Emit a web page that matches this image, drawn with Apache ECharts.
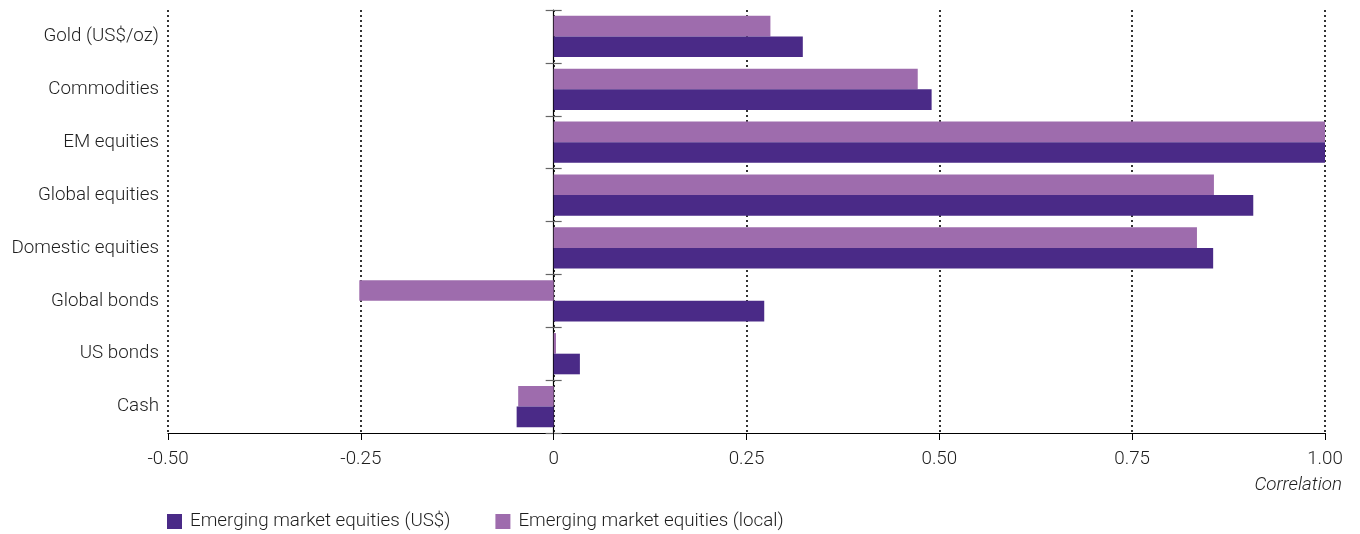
<!DOCTYPE html>
<html>
<head>
<meta charset="utf-8">
<script src="https://cdn.jsdelivr.net/npm/echarts@6/dist/echarts.min.js"></script>
<style>html,body{margin:0;padding:0;background:#fff}#c{width:1360px;height:534px}</style>
</head>
<body>
<div id="c"></div>
<script>
const categories = ['Gold (US$/oz)', 'Commodities', 'EM equities', 'Global equities', 'Domestic equities', 'Global bonds', 'US bonds', 'Cash'];
const seriesUSD = [0.323, 0.490, 1.0, 0.907, 0.855, 0.273, 0.034, -0.048];
const seriesLocal = [0.281, 0.472, 1.0, 0.856, 0.834, -0.252, 0.003, -0.046];
const xTicks = [-0.5, -0.25, 0, 0.25, 0.5, 0.75, 1.0];
const nameUSD = 'Emerging market equities (US$)';
const nameLocal = 'Emerging market equities (local)';

const FONT = 'Roboto, "Liberation Sans", Arial, sans-serif';
const FS = 18.8;
const FW = 300;
const TXT = '#1e1e1e';
const XMIN = -0.5, XMAX = 1.0;
const GRID = {left: 168, right: 35, top: 10, bottom: 101};
const plotW = 1360 - GRID.left - GRID.right;
const zeroX = (0 - XMIN) / (XMAX - XMIN) * plotW;

const chart = echarts.init(document.getElementById('c'));
const baseY = {type: 'category', data: categories, inverse: true, axisLabel: {show: false}, splitLine: {show: false}};
chart.setOption({
  animation: false,
  grid: GRID,
  legend: {
    data: [nameUSD, nameLocal], left: 162, top: 507, itemWidth: 15, itemHeight: 15, itemGap: 45, icon: 'rect',
    textStyle: {fontFamily: FONT, fontSize: FS, fontWeight: FW, color: TXT, padding: [0, 0, 0, 3]}
  },
  title: {text: 'Correlation', right: 13, top: 471, textStyle: {fontFamily: FONT, fontSize: FS, fontStyle: 'italic', fontWeight: FW, color: TXT}},
  xAxis: {
    type: 'value', min: XMIN, max: XMAX, interval: 0.25,
    axisLine: {show: true, onZero: false, lineStyle: {color: '#000', width: 1.2}},
    axisTick: {show: true, length: 7, lineStyle: {color: '#000'}},
    axisLabel: {fontFamily: FONT, fontSize: FS, fontWeight: FW, color: TXT, margin: 17,
      formatter: v => v === 0 ? '0' : v.toFixed(2)},
    splitLine: {show: true, lineStyle: {type: [2, 3], color: '#000', width: 1.6}}
  },
  yAxis: [
    Object.assign({}, baseY, {
      axisLine: {show: false, onZero: false}, axisTick: {show: false},
      axisLabel: {show: true, fontFamily: FONT, fontSize: FS, fontWeight: FW, color: TXT, margin: 9}
    }),
    Object.assign({}, baseY, {
      position: 'left',
      axisLine: {show: true, onZero: true, lineStyle: {color: '#000', width: 1.2}},
      axisTick: {show: false}
    }),
    Object.assign({}, baseY, {
      position: 'left', offset: -(zeroX + 8),
      axisLine: {show: false, onZero: false},
      axisTick: {show: true, inside: false, length: 16, lineStyle: {color: '#666', width: 1.2}}
    })
  ],
  series: [
    {name: nameLocal, type: 'bar', data: seriesLocal, yAxisIndex: 0, barGap: '0%', barCategoryGap: '22%', itemStyle: {color: '#9E6CAD'}},
    {name: nameUSD, type: 'bar', data: seriesUSD, yAxisIndex: 0, barGap: '0%', barCategoryGap: '22%', itemStyle: {color: '#4A2A87'}}
  ]
});
</script>
</body>
</html>
